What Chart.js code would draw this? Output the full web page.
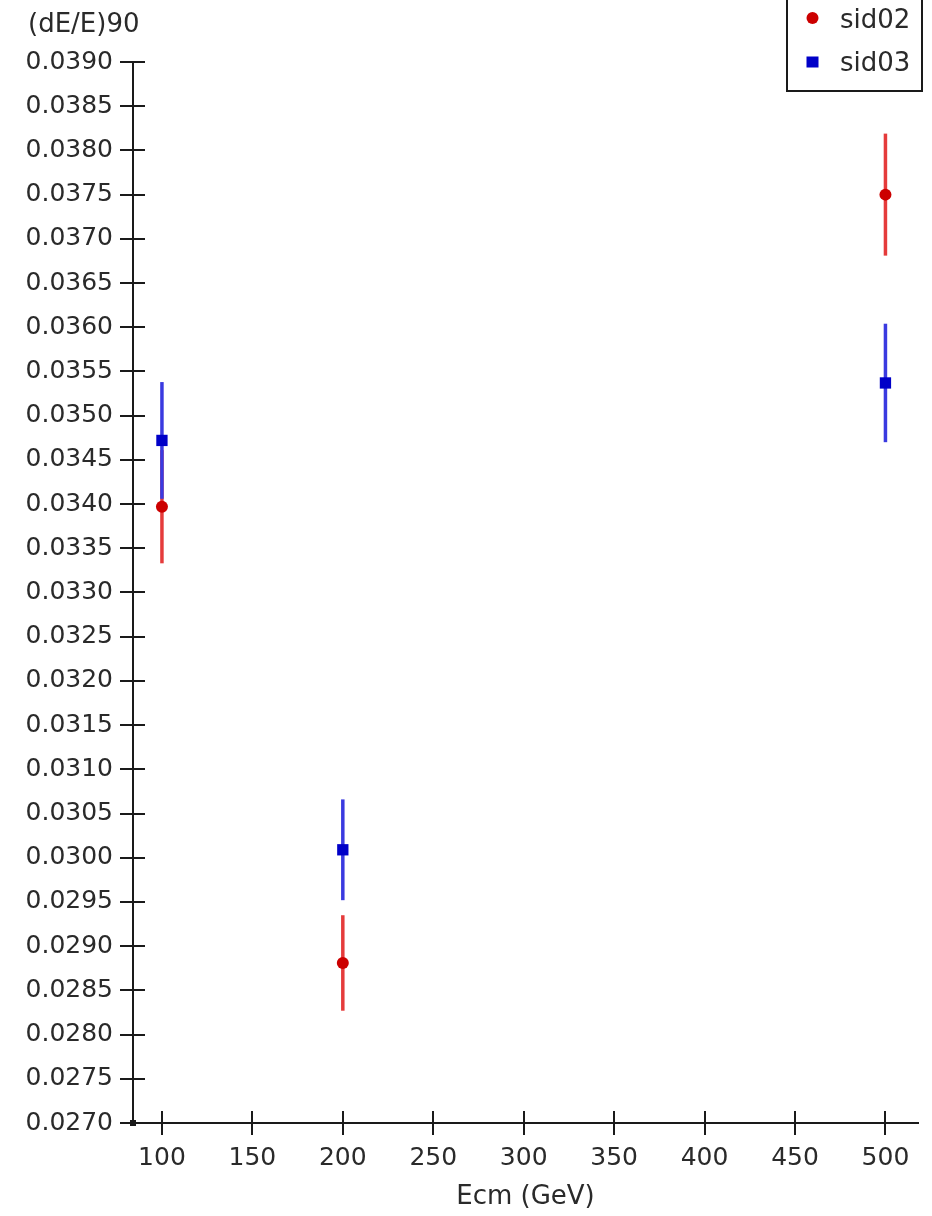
<!DOCTYPE html>
<html>
<head>
<meta charset="utf-8">
<script src="https://cdn.jsdelivr.net/npm/chart.js@4/dist/chart.umd.min.js"></script>
<style>
  html, body { margin: 0; padding: 0; background: #ffffff; }
  #wrap { width: 932px; height: 1216px; }
</style>
</head>
<body>
<div id="wrap"><canvas id="c" width="932" height="1216"></canvas></div>
<script>
// Centre-of-mass energies (GeV)
const energies = [100, 200, 500];

// (dE/E)90 resolution and its uncertainty for each detector model
const sid02Values = [0.03397, 0.02881, 0.03750];
const sid02Errors = [0.00064, 0.00054, 0.00069];
const sid03Values = [0.03472, 0.03009, 0.03537];
const sid03Errors = [0.00066, 0.00057, 0.00067];

// Axis ticks
const xTickValues = [100, 150, 200, 250, 300, 350, 400, 450, 500];
const yTickValues = [
  0.0270, 0.0275, 0.0280, 0.0285, 0.0290, 0.0295, 0.0300, 0.0305,
  0.0310, 0.0315, 0.0320, 0.0325, 0.0330, 0.0335, 0.0340, 0.0345,
  0.0350, 0.0355, 0.0360, 0.0365, 0.0370, 0.0375, 0.0380, 0.0385, 0.0390
];

const FONT = 'DejaVu Sans';
const TEXT = '#2a2a2a';
const AXIS = '#1a1a1a';

const toPoints = (vals) => energies.map((e, i) => ({ x: e, y: vals[i] }));

// Vertical error bars, drawn underneath the markers
const errorBars = {
  id: 'errorBars',
  beforeDatasetsDraw(chart) {
    const { ctx, scales: { x, y } } = chart;
    chart.data.datasets.forEach((ds) => {
      ctx.save();
      ctx.strokeStyle = ds.errorColor;
      ctx.lineWidth = 3.5;
      ds.data.forEach((p, i) => {
        const px = x.getPixelForValue(p.x);
        ctx.beginPath();
        ctx.moveTo(px, y.getPixelForValue(p.y - ds.errors[i]));
        ctx.lineTo(px, y.getPixelForValue(p.y + ds.errors[i]));
        ctx.stroke();
      });
      ctx.restore();
    });
  }
};

// Tick marks that cross the axis line, plus the small corner block
const crossTicks = {
  id: 'crossTicks',
  afterDraw(chart) {
    const { ctx, chartArea, scales: { x, y } } = chart;
    ctx.save();
    ctx.strokeStyle = AXIS;
    ctx.lineWidth = 2;
    x.ticks.forEach((t) => {
      const px = Math.round(x.getPixelForValue(t.value));
      ctx.beginPath();
      ctx.moveTo(px, chartArea.bottom);
      ctx.lineTo(px, chartArea.bottom - 12);
      ctx.stroke();
    });
    y.ticks.forEach((t) => {
      const py = Math.round(y.getPixelForValue(t.value));
      ctx.beginPath();
      ctx.moveTo(chartArea.left, py);
      ctx.lineTo(chartArea.left + 12, py);
      ctx.stroke();
    });
    ctx.fillStyle = AXIS;
    ctx.fillRect(chartArea.left - 3, chartArea.bottom - 3, 6, 6);
    ctx.restore();
  }
};

// Y-axis caption and boxed legend at the top
const captions = {
  id: 'captions',
  afterDraw(chart) {
    const { ctx } = chart;
    ctx.save();
    ctx.font = '26px "' + FONT + '"';
    ctx.fillStyle = TEXT;
    ctx.textBaseline = 'middle';
    ctx.textAlign = 'left';
    ctx.fillText('(dE/E)90', 28, 25);

    // legend box
    ctx.fillStyle = '#ffffff';
    ctx.fillRect(787, -4, 135, 95);
    ctx.strokeStyle = AXIS;
    ctx.lineWidth = 2;
    ctx.strokeRect(787, -4, 135, 95);

    const rows = [19, 62];
    chart.data.datasets.forEach((ds, i) => {
      const cy = rows[i];
      ctx.fillStyle = ds.pointBackgroundColor;
      if (ds.pointStyle === 'rect') {
        ctx.fillRect(806.5, cy - 5.5, 12, 11);
      } else {
        ctx.beginPath();
        ctx.arc(812.5, cy - 1, 6, 0, Math.PI * 2);
        ctx.fill();
      }
      ctx.fillStyle = TEXT;
      ctx.font = '26px "' + FONT + '"';
      ctx.fillText(ds.label, 840, cy + 2);
    });
    ctx.restore();
  }
};

new Chart(document.getElementById('c'), {
  type: 'scatter',
  data: {
    datasets: [
      {
        label: 'sid02',
        data: toPoints(sid02Values),
        errors: sid02Errors,
        errorColor: '#e53b3b',
        pointStyle: 'circle',
        pointRadius: 6,
        pointBackgroundColor: '#cc0000',
        pointBorderWidth: 0,
        showLine: false
      },
      {
        label: 'sid03',
        data: toPoints(sid03Values),
        errors: sid03Errors,
        errorColor: '#3a3ae0',
        pointStyle: 'rect',
        pointRadius: 8,
        pointBackgroundColor: '#0000c8',
        pointBorderWidth: 0,
        showLine: false
      }
    ]
  },
  options: {
    responsive: false,
    animation: false,
    devicePixelRatio: 1,
    layout: { padding: { top: 62, right: 14, left: 0, bottom: 0 } },
    plugins: {
      legend: { display: false },
      tooltip: { enabled: false }
    },
    scales: {
      x: {
        type: 'linear',
        position: 'bottom',
        min: 84,
        max: 518,
        afterBuildTicks: (scale) => { scale.ticks = xTickValues.map((v) => ({ value: v })); },
        afterFit: (scale) => { scale.height = 93; },
        grid: { display: true, drawOnChartArea: false, drawTicks: true, tickLength: 12, color: AXIS, lineWidth: 2 },
        border: { display: true, color: AXIS, width: 2 },
        ticks: {
          font: { family: FONT, size: 25 },
          color: TEXT,
          padding: 8,
          maxRotation: 0,
          callback: (v) => String(v)
        },
        title: {
          display: true,
          text: 'Ecm (GeV)',
          font: { family: FONT, size: 26 },
          color: TEXT,
          padding: { top: 0, bottom: 3 }
        }
      },
      y: {
        type: 'linear',
        min: 0.0270,
        max: 0.0390,
        afterBuildTicks: (scale) => { scale.ticks = yTickValues.map((v) => ({ value: v })); },
        afterFit: (scale) => { scale.width = 133; },
        grid: { display: true, drawOnChartArea: false, drawTicks: true, tickLength: 13, color: AXIS, lineWidth: 2 },
        border: { display: true, color: AXIS, width: 2 },
        ticks: {
          font: { family: FONT, size: 25 },
          color: TEXT,
          padding: 7,
          callback: (v) => Number(v).toFixed(4)
        }
      }
    }
  },
  plugins: [errorBars, crossTicks, captions]
});
</script>
</body>
</html>
